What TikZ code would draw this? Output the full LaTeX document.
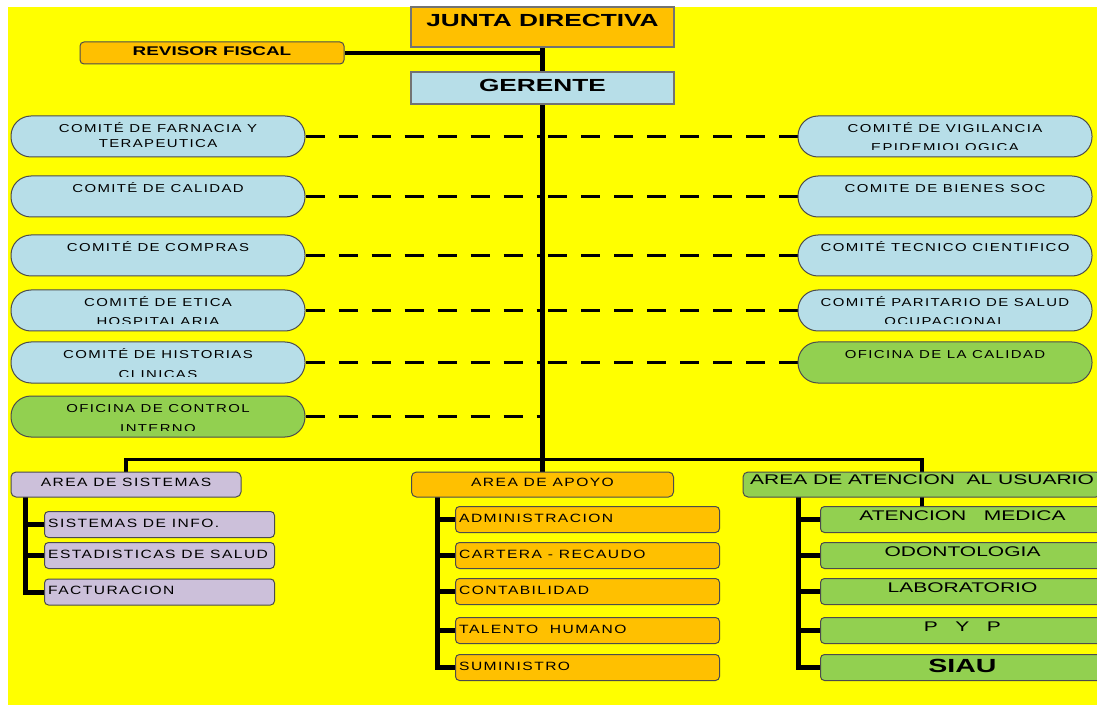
\documentclass[tikz,border=0pt]{standalone}
\usepackage{fontspec}
\setmainfont{Liberation Sans}
\newfontfamily\gothic[FakeStretch=1.3, LetterSpace=12]{Liberation Sans}
\newfontfamily\ancha[FakeStretch=1.5]{Liberation Sans}
\usetikzlibrary{backgrounds}

\definecolor{fondo}{HTML}{FFFF00}
\definecolor{naranja}{HTML}{FFC000}
\definecolor{celeste}{HTML}{B7DEE8}
\definecolor{verde}{HTML}{92D050}
\definecolor{lila}{HTML}{CCC0DA}

% comite: nombre, x, y, relleno, linea 1, linea 2 (cortada), base de la linea 2
\newcommand{\comite}[7]{%
  \node[comite, fill=#4] (#1) at (#2,#3) {};
  \node[ctext] (#1-a) at ([yshift=-17pt]#1.north) {#5};
  \if\relax\detokenize{#6}\relax\else
  \begin{scope}
    \clip ([yshift=7.5pt]#1.south west) rectangle (#1.north east);
    \node[ctext] (#1-b) at ([yshift=-#7]#1.north) {#6};
  \end{scope}\fi}

\begin{document}
\begin{tikzpicture}[x=1pt,y=-1pt,
    caja/.style={draw=black!70, line width=1pt, inner sep=0pt},
    comite/.style={caja, rounded corners=20pt, minimum width=294pt, minimum height=41pt},
    ctext/.style={anchor=base, inner sep=0pt, font=\gothic\fontsize{11.5}{14}\selectfont},
    jefe/.style={draw=black!55, line width=1.2pt, inner sep=0pt, font=\ancha\bfseries\fontsize{17.5}{20}\selectfont},
    area/.style={caja, rounded corners=5pt, minimum height=25pt, text height=14pt, text depth=11pt, font=\gothic\fontsize{12}{14}\selectfont},
    subcaja/.style={caja, rounded corners=4pt, anchor=north west, minimum height=26pt},
    stext/.style={anchor=base west, inner sep=0pt, xshift=4pt, yshift=-2.5pt, font=\gothic\fontsize{12}{14}\selectfont},
    serv/.style={caja, rounded corners=4pt, anchor=north west, minimum width=284pt, minimum height=26pt, text height=14pt, text depth=12pt, fill=verde, font=\ancha\fontsize{14}{16}\selectfont},
    linea/.style={line width=5pt},
    rama/.style={line width=3.4pt},
    trazos/.style={line width=3.3pt, dash pattern=on 19pt off 14pt}]

  \clip (0,0) rectangle (1097,708);

  %%%%% direccion %%%%%
  \node[jefe, fill=naranja, minimum width=263pt, minimum height=40pt, text height=20pt, text depth=20pt] (junta) at (542.5,27) {JUNTA DIRECTIVA};
  \node[caja, fill=naranja, rounded corners=4pt, minimum width=264pt, minimum height=22pt, text height=14pt, text depth=8pt, font=\ancha\bfseries\fontsize{12.6}{14}\selectfont] (revisor) at (212,53) {REVISOR FISCAL};
  \node[jefe, fill=celeste, minimum width=263pt, minimum height=32pt, text height=20pt, text depth=12pt] (gerente) at (542.5,88) {GERENTE};

  %%%%% comites %%%%%
  \comite{farmacia}{158}{136.5}{celeste}{COMITÉ DE FARNACIA Y}{TERAPEUTICA}{32.5pt}
  \comite{calidad}{158}{196.5}{celeste}{COMITÉ DE CALIDAD}{}{}
  \comite{compras}{158}{255.5}{celeste}{COMITÉ DE COMPRAS}{}{}
  \comite{etica}{158}{310.5}{celeste}{COMITÉ DE ETICA}{HOSPITALARIA}{36.5pt}
  \comite{historias}{158}{362.5}{celeste}{COMITÉ DE HISTORIAS}{CLINICAS}{36.5pt}
  \comite{control}{158}{416.5}{verde}{OFICINA DE CONTROL}{INTERNO}{36.5pt}

  \comite{vigilancia}{945}{136.5}{celeste}{COMITÉ DE VIGILANCIA}{EPIDEMIOLOGICA}{36.5pt}
  \comite{bienes}{945}{196.5}{celeste}{COMITE DE BIENES SOC}{}{}
  \comite{tecnico}{945}{255.5}{celeste}{COMITÉ TECNICO CIENTIFICO}{}{}
  \comite{paritario}{945}{310.5}{celeste}{COMITÉ PARITARIO DE SALUD}{OCUPACIONAL}{36.5pt}
  \comite{ofcalidad}{945}{362.5}{verde}{OFICINA DE LA CALIDAD}{}{}

  %%%%% areas %%%%%
  \node[area, fill=lila, minimum width=230pt] (sistemas) at (126,484.5) {AREA DE SISTEMAS};
  \node[area, fill=naranja, minimum width=262pt] (apoyo) at (542.5,484.5) {AREA DE APOYO};
  \node[area, fill=verde, minimum width=358pt, text height=12.5pt, text depth=12.5pt, font=\ancha\fontsize{14}{16}\selectfont] (atencion) at (922,484.5) {AREA DE ATENCION\ \ AL USUARIO};

  \node[subcaja, fill=lila, minimum width=230pt, label={[stext]west:SISTEMAS DE INFO.}] (info) at (44,511) {};
  \node[subcaja, fill=lila, minimum width=230pt, label={[stext]west:ESTADISTICAS DE SALUD}] (estadisticas) at (44,542) {};
  \node[subcaja, fill=lila, minimum width=230pt, label={[stext]west:FACTURACION}] (facturacion) at (44,578.5) {};

  \node[subcaja, fill=naranja, minimum width=264pt, label={[stext]west:ADMINISTRACION}] (admin) at (455,506) {};
  \node[subcaja, fill=naranja, minimum width=264pt, label={[stext]west:CARTERA - RECAUDO}] (cartera) at (455,542) {};
  \node[subcaja, fill=naranja, minimum width=264pt, label={[stext]west:CONTABILIDAD}] (conta) at (455,578) {};
  \node[subcaja, fill=naranja, minimum width=264pt, label={[stext]west:TALENTO\ \ HUMANO}] (talento) at (455,617) {};
  \node[subcaja, fill=naranja, minimum width=264pt, label={[stext]west:SUMINISTRO}] (suministro) at (455,654) {};

  \node[serv] (medica) at (820,506) {ATENCION\ \ \ MEDICA};
  \node[serv] (odonto) at (820,542) {ODONTOLOGIA};
  \node[serv] (lab) at (820,578) {LABORATORIO};
  \node[serv] (pyp) at (820,617) {P\ \ \ Y\ \ \ P};
  \node[serv, text height=18pt, text depth=8pt, font=\ancha\bfseries\fontsize{19}{21}\selectfont] (siau) at (820,654) {SIAU};

  %%%%% lineas %%%%%
  \begin{scope}[on background layer]
    \fill[white] (0,0) rectangle (1097,708);
    \fill[fondo] (8,7) rectangle (1097,705);

    \foreach \c in {farmacia,calidad,compras,etica,historias,control}
      \draw[trazos] (\c.east) -- (\c.east -| gerente.south);
    \foreach \c in {vigilancia,bienes,tecnico,paritario,ofcalidad}
      \draw[trazos] (\c.west) -- (\c.west -| gerente.south);

    \draw[rama] (revisor.east) -- (revisor.east -| junta.south);
    \draw[linea] (junta) -- (gerente);
    \draw[linea] (gerente) -- (apoyo);
    \coordinate (barra) at (542.5,459.5);
    \draw[rama] (sistemas.north) |- (barra) -| (atencion.north |- medica.north);

    \coordinate (busS) at (25,497);
    \coordinate (busA) at (437,497);
    \coordinate (busU) at (798,497);
    \foreach \n in {info,estadisticas,facturacion}
      \draw[linea] (busS) |- (\n.west);
    \foreach \n in {admin,cartera,conta,talento,suministro}
      \draw[linea] (busA) |- (\n.west);
    \foreach \n in {medica,odonto,lab,pyp,siau}
      \draw[linea] (busU) |- (\n.west);
  \end{scope}
\end{tikzpicture}
\end{document}
